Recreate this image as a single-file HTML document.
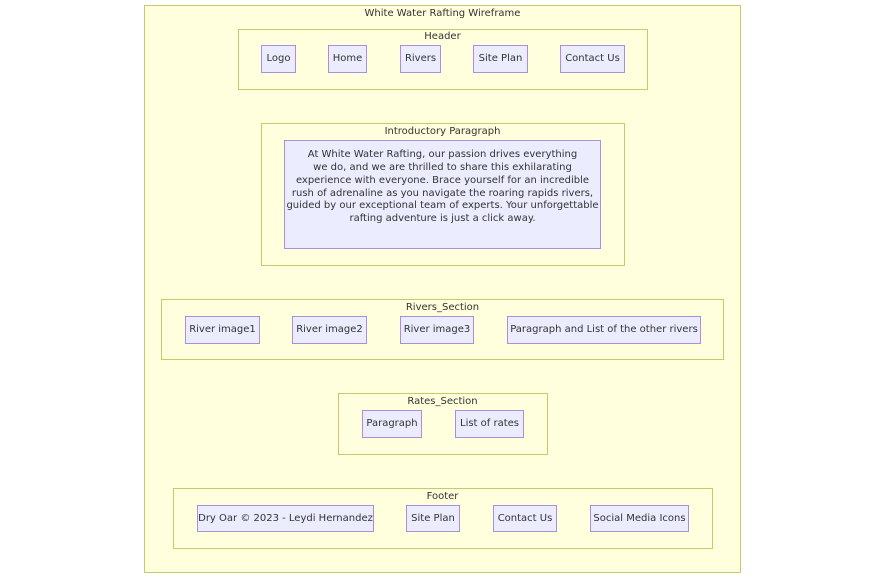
<!DOCTYPE html>
<html><head><meta charset="utf-8"><style>
html,body{margin:0;padding:0;background:#fff;}
svg{display:block;}
text{font-family:"DejaVu Sans","Liberation Sans",sans-serif;font-size:10px;fill:#333;}
.c{fill:#ffffde;stroke:#c9c96a;stroke-width:1;}
.n{fill:#ececff;stroke:#a98fe0;stroke-width:1;}
</style></head><body>
<svg width="885" height="578" viewBox="0 0 885 578" xmlns="http://www.w3.org/2000/svg">
<rect class="c" x="144.5" y="5.5" width="596" height="567"/>
<text x="442.5" y="16" text-anchor="middle">White Water Rafting Wireframe</text>

<rect class="c" x="238.5" y="29.5" width="409" height="60"/>
<text x="442.5" y="39" text-anchor="middle">Header</text>
<rect class="n" x="261.5" y="45.5" width="34" height="27"/><text x="278.5" y="61" text-anchor="middle">Logo</text>
<rect class="n" x="328.5" y="45.5" width="38" height="27"/><text x="347.5" y="61" text-anchor="middle">Home</text>
<rect class="n" x="400.5" y="45.5" width="40" height="27"/><text x="420.5" y="61" text-anchor="middle">Rivers</text>
<rect class="n" x="473.5" y="45.5" width="54" height="27"/><text x="500.5" y="61" text-anchor="middle">Site Plan</text>
<rect class="n" x="560.5" y="45.5" width="64" height="27"/><text x="592.5" y="61" text-anchor="middle">Contact Us</text>

<rect class="c" x="261.5" y="123.5" width="363" height="142"/>
<text x="442.5" y="134" text-anchor="middle">Introductory Paragraph</text>
<rect class="n" x="284.5" y="140.5" width="316" height="108"/>
<g text-anchor="middle">
<text x="442.5" y="157">At White Water Rafting, our passion drives everything</text>
<text x="442.5" y="170">we do, and we are thrilled to share this exhilarating</text>
<text x="442.5" y="183">experience with everyone. Brace yourself for an incredible</text>
<text x="442.5" y="196">rush of adrenaline as you navigate the roaring rapids rivers,</text>
<text x="442.5" y="208">guided by our exceptional team of experts. Your unforgettable</text>
<text x="442.5" y="221">rafting adventure is just a click away.</text>
</g>

<rect class="c" x="161.5" y="299.5" width="562" height="60"/>
<text x="442.5" y="310" text-anchor="middle">Rivers_Section</text>
<rect class="n" x="185.5" y="316.5" width="74" height="27"/><text x="222.5" y="332" text-anchor="middle">River image1</text>
<rect class="n" x="292.5" y="316.5" width="74" height="27"/><text x="329.5" y="332" text-anchor="middle">River image2</text>
<rect class="n" x="400.5" y="316.5" width="73" height="27"/><text x="437" y="332" text-anchor="middle">River image3</text>
<rect class="n" x="507.5" y="316.5" width="193" height="27"/><text x="604" y="332" text-anchor="middle">Paragraph and List of the other rivers</text>

<rect class="c" x="338.5" y="393.5" width="209" height="61"/>
<text x="442.5" y="404" text-anchor="middle">Rates_Section</text>
<rect class="n" x="362.5" y="410.5" width="59" height="27"/><text x="392" y="426" text-anchor="middle">Paragraph</text>
<rect class="n" x="455.5" y="410.5" width="68" height="27"/><text x="489.5" y="426" text-anchor="middle">List of rates</text>

<rect class="c" x="173.5" y="488.5" width="539" height="60"/>
<text x="442.5" y="499" text-anchor="middle">Footer</text>
<rect class="n" x="197.5" y="505.5" width="176" height="26"/><text x="285.5" y="521" text-anchor="middle">Dry Oar © 2023 - Leydi Hernandez</text>
<rect class="n" x="406.5" y="505.5" width="53" height="26"/><text x="433" y="521" text-anchor="middle">Site Plan</text>
<rect class="n" x="493.5" y="505.5" width="63" height="26"/><text x="525" y="521" text-anchor="middle">Contact Us</text>
<rect class="n" x="590.5" y="505.5" width="98" height="26"/><text x="639.5" y="521" text-anchor="middle">Social Media Icons</text>
</svg>
</body></html>
